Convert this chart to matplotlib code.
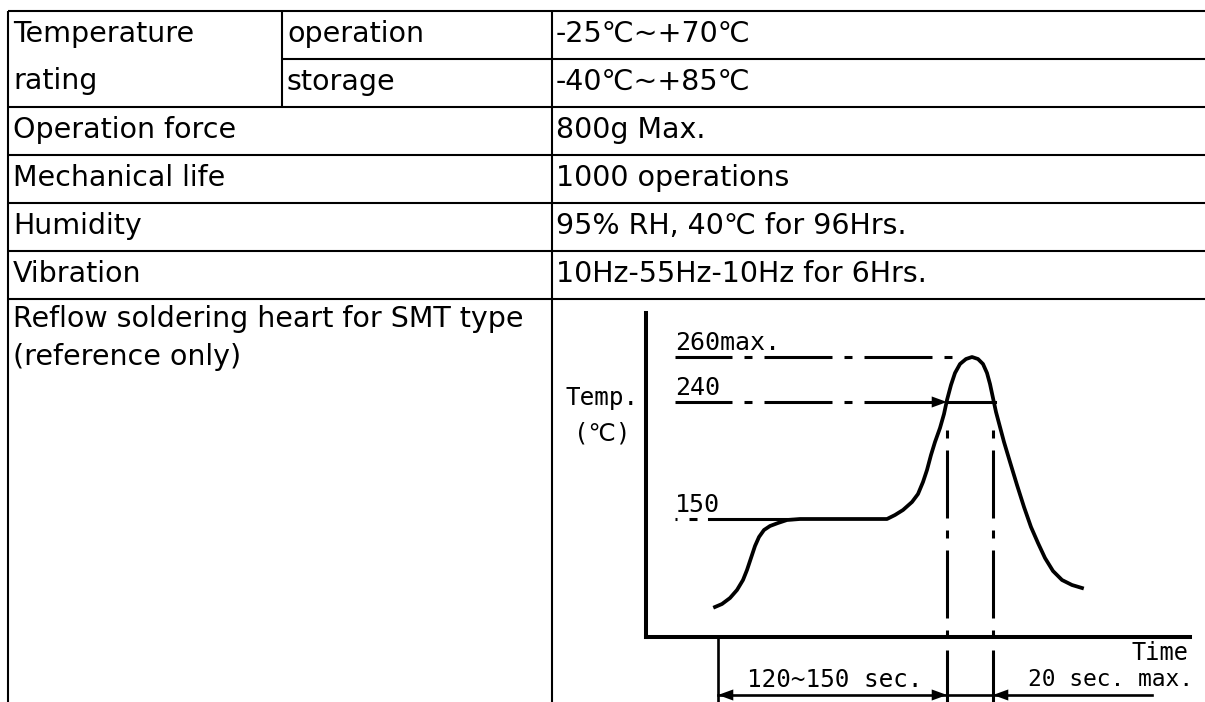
import matplotlib.pyplot as plt

plt.rcParams['lines.scale_dashes'] = False

# table text
temp_label = ["Temperature", "rating"]
temp_modes = ["operation", "storage"]
temp_ranges = ["-25℃~+70℃", "-40℃~+85℃"]
spec_names = ["Operation force", "Mechanical life", "Humidity", "Vibration"]
spec_values = ["800g Max.", "1000 operations", "95% RH, 40℃ for 96Hrs.", "10Hz-55Hz-10Hz for 6Hrs."]
reflow_label = ["Reflow soldering heart for SMT type", "(reference only)"]

# reflow profile, schematic units
curve_time = [69, 76, 84, 91, 97, 101, 105, 109, 113, 118, 124, 132, 141, 154, 241, 249, 257,
              266, 272, 277, 281, 285, 289, 294, 298, 301, 305, 309, 314, 320, 326, 332, 337,
              341, 344, 347, 350, 354, 358, 364, 371, 378, 385, 392, 399, 407, 416, 426, 436]
curve_temp = [30, 33, 39, 47, 57, 67, 79, 91, 100, 107, 111, 114, 117, 118, 118, 122, 127,
              135, 143, 155, 167, 182, 195, 209, 223, 237, 252, 264, 273, 278, 280, 278, 273,
              264, 253, 239, 225, 210, 195, 175, 152, 130, 110, 94, 79, 66, 57, 52, 49]
level_txt = ["150", "240", "260max."]
level_y = [118, 235, 280]
t_preheat = 72          # start of 120~150 sec. span
t_over240 = [301, 347]  # curve crosses 240
t_span_end = 506

# ---------- table ----------
fig = plt.figure(figsize=(12.05, 7.02), dpi=100)
tab = fig.add_axes([0, 0, 1, 1])
tab.set_xlim(0, 1205)
tab.set_ylim(702, 0)
tab.axis('off')

lw_t = 1.5
tab.hlines([11, 107, 155, 203, 251, 299], 8, 1205, color='k', lw=lw_t)
tab.hlines(59, 282, 1205, color='k', lw=lw_t)
tab.vlines([8, 552], 11, 702, color='k', lw=lw_t)
tab.vlines(282, 11, 107, color='k', lw=lw_t)

fs = 20.5
sans = ['DejaVu Sans']
for i, s in enumerate(temp_label):
    tab.text(13, 42 + i * 47, s, fontsize=fs, family=sans, va='baseline')
for i, (m, r) in enumerate(zip(temp_modes, temp_ranges)):
    tab.text(287, 42 + i * 48, m, fontsize=fs, family=sans, va='baseline')
    tab.text(556, 42 + i * 48, r, fontsize=fs, family=sans, va='baseline')
for i, (n, v) in enumerate(zip(spec_names, spec_values)):
    tab.text(13, 138 + i * 48, n, fontsize=fs, family=sans, va='baseline')
    tab.text(556, 138 + i * 48, v, fontsize=fs, family=sans, va='baseline')
tab.text(13, 327, reflow_label[0], fontsize=fs, family=sans, va='baseline')
tab.text(13, 365, reflow_label[1], fontsize=fs, family=sans, va='baseline')

# ---------- reflow chart ----------
ax = fig.add_axes([646 / 1205, (702 - 637) / 702, (1190 - 646) / 1205, (637 - 313) / 702])
ax.set_xlim(0, 544)
ax.set_ylim(0, 324)
ax.patch.set_visible(False)
for s in ['top', 'right']:
    ax.spines[s].set_visible(False)
for s in ['left', 'bottom']:
    ax.spines[s].set_linewidth(2.9)
ax.set_xticks([])
ax.set_yticks([])

k = 0.72  # px -> pt
dd = (68 * k, 12 * k, 8 * k, 12 * k)

ax.plot(curve_time, curve_temp, color='k', lw=2.7, solid_joinstyle='round')

# reference levels
ax.plot([29, 63], [level_y[0]] * 2, color='k', lw=2.2, ls=(66 * k, dd))
ax.plot([63, 145], [level_y[0]] * 2, color='k', lw=2.2)
ax.plot([29, 286], [level_y[1]] * 2, color='k', lw=2.2, ls=(11 * k, dd))
ax.plot([t_over240[0], 349], [level_y[1]] * 2, color='k', lw=2.2)
ax.plot([29, 306], [level_y[2]] * 2, color='k', lw=2.2, ls=(11 * k, dd))

mono = ['DejaVu Sans Mono', 'DejaVu Sans']
for txt, y in zip(level_txt, level_y):
    ax.text(29, y + 7, txt, fontsize=18, family=mono, va='baseline')

head = dict(arrowstyle='-|>,head_length=0.55,head_width=0.2', mutation_scale=20,
            color='k', lw=0, shrinkA=0, shrinkB=0)
ax.annotate('', xy=(t_over240[0], level_y[1]), xytext=(t_over240[0] - 20, level_y[1]),
            arrowprops=head, annotation_clip=False)

# time markers
for t in t_over240:
    ax.plot([t, t], [207, -75], color='k', lw=2.2, ls=(80 * k, dd), clip_on=False)
ax.plot([t_preheat, t_preheat], [0, -75], color='k', lw=1.9, clip_on=False)
ax.plot([t_preheat, t_span_end], [-58, -58], color='k', lw=1.9, clip_on=False)
ax.annotate('', xy=(t_preheat, -58), xytext=(t_preheat + 20, -58), arrowprops=head, annotation_clip=False)
ax.annotate('', xy=(t_over240[0], -58), xytext=(t_over240[0] - 20, -58), arrowprops=head, annotation_clip=False)
ax.annotate('', xy=(t_over240[1], -58), xytext=(t_over240[1] + 20, -58), arrowprops=head, annotation_clip=False)

ax.text(-44, 239, "Temp.", fontsize=17.5, family=mono, ha='center', va='center')
ax.text(-44, 204, "(℃)", fontsize=17.5, family=mono, ha='center', va='center')
ax.text(542, -16, "Time", fontsize=17, family=mono, ha='right', va='center')
ax.text(101, -43, "120~150 sec.", fontsize=17.5, family=mono, va='center')
ax.text(382, -43, "20 sec. max.", fontsize=16.5, family=mono, va='center')

fig.savefig('out.png', dpi=100)
